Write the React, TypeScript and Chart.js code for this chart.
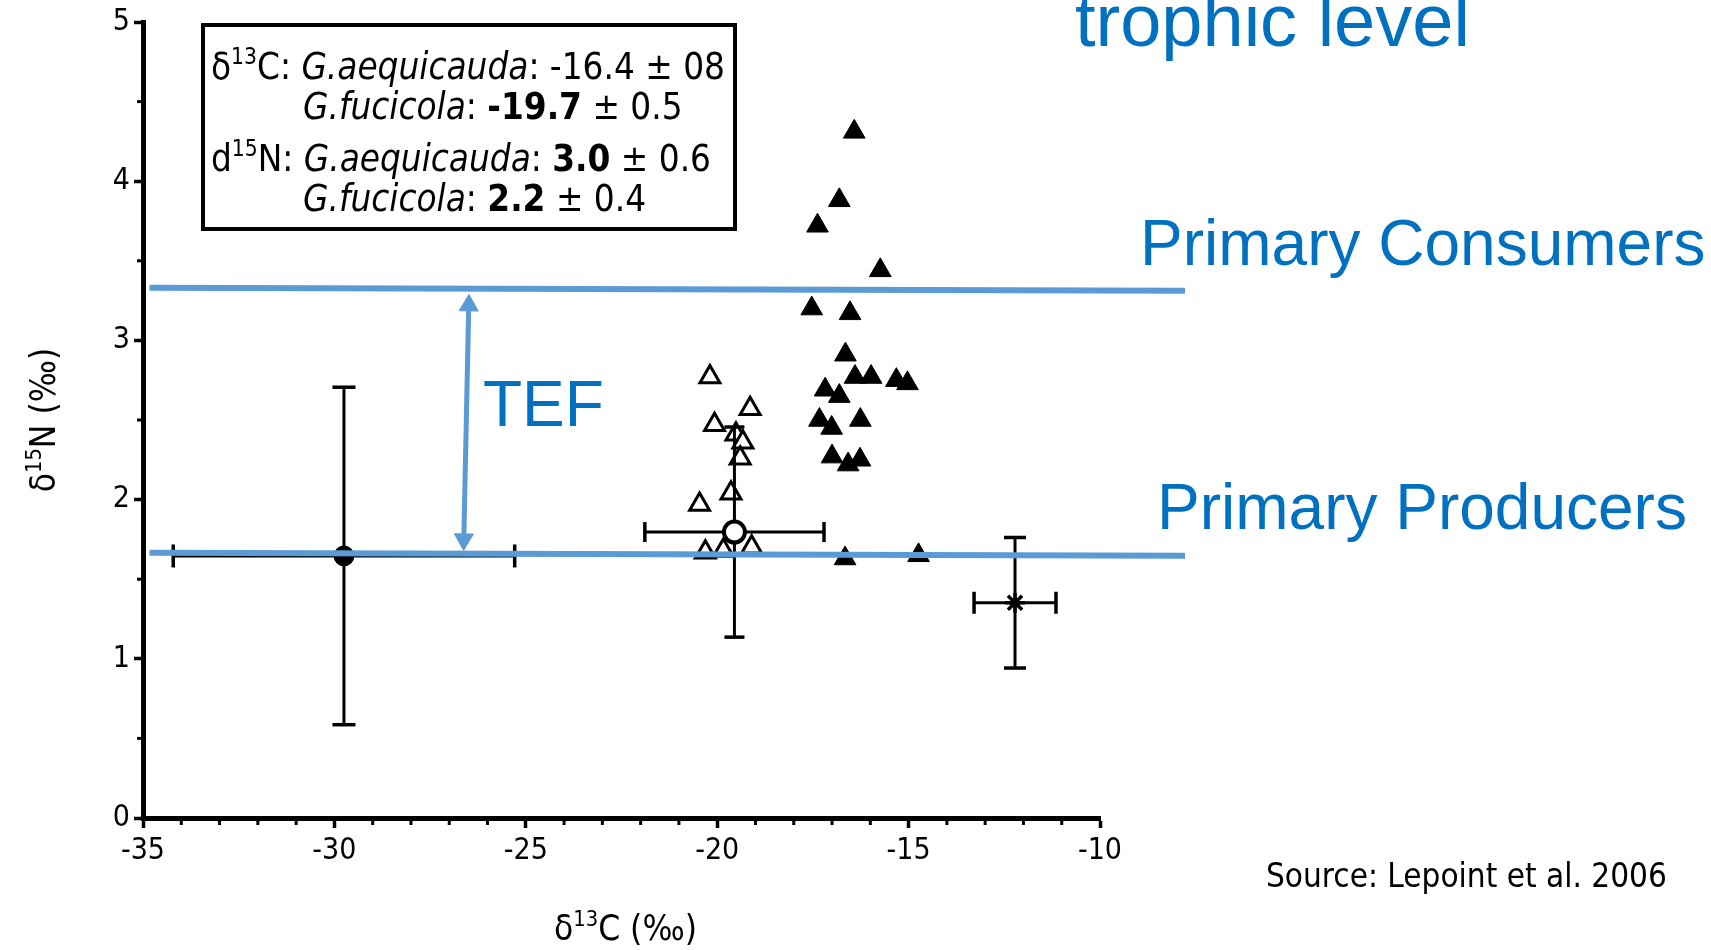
import React, { useEffect, useRef } from 'react';
import { Chart, registerables } from 'chart.js';

Chart.register(...registerables);

// ---------- data ----------
// G. aequicauda (filled triangles)
const aequicaudaX = [-16.42, -16.81, -17.38, -15.74, -17.53, -16.53, -16.65, -16.40, -15.98, -15.32, -15.03, -17.18, -16.81, -17.33, -17.01, -16.26, -17.00, -16.58, -16.27, -16.66, -14.74];
const aequicaudaY = [4.31, 3.88, 3.72, 3.44, 3.20, 3.17, 2.91, 2.77, 2.77, 2.75, 2.73, 2.69, 2.65, 2.50, 2.45, 2.50, 2.27, 2.22, 2.25, 1.63, 1.65];
// G. fucicola (open triangles)
const fucicolaX = [-20.19, -19.14, -20.07, -19.51, -19.33, -19.40, -19.64, -20.46, -20.31, -19.84, -19.10];
const fucicolaY = [2.77, 2.57, 2.47, 2.41, 2.36, 2.26, 2.04, 1.97, 1.67, 1.68, 1.70];
// food sources: mean ± sd
const sourceNames = ['source A', 'source B', 'source C'];
const sourceMeanX = [-29.75, -19.55, -12.22];
const sourceMeanY = [1.646, 1.796, 1.352];
const sourceSdX = [4.46, 2.34, 1.07];
const sourceSdY = [1.06, 0.66, 0.41];
// trophic reference lines
const consumerLineX = [-34.83, -7.78];
const consumerLineY = [3.331, 3.312];
const producerLineX = [-34.83, -7.78];
const producerLineY = [1.666, 1.647];
const tefArrowX = [-26.49, -26.62];
const tefArrowY = [3.22, 1.75];
// axes
const xMin = -35, xMax = -10, xMajor = 5, xMinor = 1;
const yMin = 0, yMax = 5, yMajor = 1, yMinor = 0.5;
// texts
const titleText = 'trophic level';
const consumerText = 'Primary Consumers';
const producerText = 'Primary Producers';
const tefText = 'TEF';
const sourceNote = 'Source: Lepoint et al. 2006';

type Seg = { t: string; it?: boolean; b?: boolean; sup?: boolean };
const boxLines: Seg[][] = [
  [{ t: 'δ' }, { t: '13', sup: true }, { t: 'C: ' }, { t: 'G.aequicauda', it: true }, { t: ': -16.4 ± 08' }],
  [{ t: 'G.fucicola', it: true }, { t: ': ' }, { t: '-19.7', b: true }, { t: ' ± 0.5' }],
  [{ t: 'd' }, { t: '15', sup: true }, { t: 'N: ' }, { t: 'G.aequicauda', it: true }, { t: ': ' }, { t: '3.0', b: true }, { t: ' ± 0.6' }],
  [{ t: 'G.fucicola', it: true }, { t: ': ' }, { t: '2.2', b: true }, { t: ' ± 0.4' }],
];
const xTitle: Seg[] = [{ t: 'δ' }, { t: '13', sup: true }, { t: 'C (‰)' }];
const yTitle: Seg[] = [{ t: 'δ' }, { t: '15', sup: true }, { t: 'N (‰)' }];

// ---------- styles ----------
const GOTHIC = '"DejaVu Sans Condensed", "Liberation Sans Narrow", "DejaVu Sans", sans-serif';
const ARIAL = '"Liberation Sans", Arial, sans-serif';
const LINE_BLUE = '#5B9BD5';
const TEXT_BLUE = '#0070C0';

function segFont(s: Seg, size: number, family: string) {
  const fs = s.sup ? size * 0.62 : size;
  return `${s.it ? 'italic ' : ''}${s.b ? 'bold ' : ''}${fs}px ${family}`;
}
function measureRich(ctx: CanvasRenderingContext2D, segs: Seg[], size: number, family: string) {
  let w = 0;
  for (const s of segs) {
    ctx.font = segFont(s, size, family);
    w += ctx.measureText(s.t).width;
  }
  return w;
}
function drawRich(ctx: CanvasRenderingContext2D, segs: Seg[], x: number, y: number, size: number, family: string) {
  let cx = x;
  for (const s of segs) {
    ctx.font = segFont(s, size, family);
    ctx.fillText(s.t, cx, s.sup ? y - size * 0.4 : y);
    cx += ctx.measureText(s.t).width;
  }
}

const decorPlugin = {
  id: 'decor',
  afterDraw(chart: any) {
    const ctx: CanvasRenderingContext2D = chart.ctx;
    const xs = chart.scales.x;
    const ys = chart.scales.y;
    const area = chart.chartArea;
    ctx.save();
    // minor ticks
    ctx.strokeStyle = '#000';
    ctx.lineWidth = 3;
    for (let v = xMin; v <= xMax + 1e-9; v += xMinor) {
      if (Math.abs(Math.round(v / xMajor) * xMajor - v) < 1e-6) continue;
      const px = xs.getPixelForValue(v);
      ctx.beginPath();
      ctx.moveTo(px, area.bottom);
      ctx.lineTo(px, area.bottom + 7);
      ctx.stroke();
    }
    for (let v = yMin + yMinor; v < yMax; v += yMajor) {
      const py = ys.getPixelForValue(v);
      ctx.beginPath();
      ctx.moveTo(area.left - 6, py);
      ctx.lineTo(area.left, py);
      ctx.stroke();
    }

    ctx.textAlign = 'left';
    ctx.textBaseline = 'alphabetic';
    ctx.fillStyle = '#000';

    // axis titles
    const tSize = 35;
    const xw = measureRich(ctx, xTitle, tSize, GOTHIC);
    drawRich(ctx, xTitle, (area.left + area.right) / 2 + 4 - xw / 2, 940, tSize, GOTHIC);
    const yw = measureRich(ctx, yTitle, tSize, GOTHIC);
    ctx.save();
    ctx.translate(55, 420);
    ctx.rotate(-Math.PI / 2);
    drawRich(ctx, yTitle, -yw / 2, 0, tSize, GOTHIC);
    ctx.restore();

    // info box
    ctx.lineWidth = 4;
    ctx.strokeStyle = '#000';
    ctx.strokeRect(203, 25, 532, 204);
    const bSize = 36.5;
    drawRich(ctx, boxLines[0], 211, 79, bSize, GOTHIC);
    drawRich(ctx, boxLines[1], 303, 119, bSize, GOTHIC);
    drawRich(ctx, boxLines[2], 211, 171, bSize, GOTHIC);
    drawRich(ctx, boxLines[3], 303, 211, bSize, GOTHIC);

    // blue annotations
    ctx.fillStyle = TEXT_BLUE;
    ctx.font = `74px ${ARIAL}`;
    ctx.fillText(titleText, 1075, 46);
    ctx.font = `64px ${ARIAL}`;
    ctx.fillText(consumerText, 1140, 265);
    ctx.fillText(producerText, 1157, 529);
    ctx.fillText(tefText, 483, 426);

    // source
    ctx.fillStyle = '#000';
    ctx.font = `33px ${GOTHIC}`;
    ctx.fillText(sourceNote, 1266, 887);
    ctx.restore();
  },
};

export default function App() {
  const ref = useRef<HTMLCanvasElement | null>(null);
  useEffect(() => {
    if (!ref.current) return;
    const pts = (xs: number[], ys: number[]) => xs.map((x, i) => ({ x, y: ys[i] }));
    const datasets: any[] = [];
    datasets.push({
      label: consumerText, data: pts(consumerLineX, consumerLineY), showLine: true,
      borderColor: LINE_BLUE, borderWidth: 6, pointRadius: 0, clip: false, order: 0,
    });
    datasets.push({
      label: producerText, data: pts(producerLineX, producerLineY), showLine: true,
      borderColor: LINE_BLUE, borderWidth: 6, pointRadius: 0, clip: false, order: 0,
    });
    datasets.push({
      label: tefText, data: pts(tefArrowX, tefArrowY), showLine: true,
      borderColor: LINE_BLUE, borderWidth: 5, pointStyle: 'triangle', pointRadius: 11,
      pointBackgroundColor: LINE_BLUE, pointBorderColor: LINE_BLUE, pointBorderWidth: 1,
      pointRotation: [1, 181], order: 1,
    });
    const markerStyle = ['circle', 'circle', 'star'];
    const markerFill = ['#000', '#fff', '#000'];
    const markerRadius = [10, 10.5, 10];
    const markerBorder = [1, 4, 3.5];
    const capRadius = [11.5, 10, 11];
    sourceMeanX.forEach((mx, i) => {
      const my = sourceMeanY[i];
      datasets.push({
        label: sourceNames[i] + ' sd N',
        data: [{ x: mx, y: my - sourceSdY[i] }, { x: mx, y: my + sourceSdY[i] }],
        showLine: true, borderColor: '#000', borderWidth: 3,
        pointStyle: 'line', pointRadius: capRadius[i], pointBorderColor: '#000', pointBorderWidth: 3.5,
        pointRotation: 0, order: 3,
      });
      datasets.push({
        label: sourceNames[i] + ' sd C',
        data: [{ x: mx - sourceSdX[i], y: my }, { x: mx + sourceSdX[i], y: my }],
        showLine: true, borderColor: '#000', borderWidth: 3,
        pointStyle: 'line', pointRadius: capRadius[i], pointBorderColor: '#000', pointBorderWidth: 3.5,
        pointRotation: 90, order: 3,
      });
      datasets.push({
        label: sourceNames[i],
        data: [{ x: mx, y: my }],
        pointStyle: markerStyle[i], pointRadius: markerRadius[i],
        pointBackgroundColor: markerFill[i], pointBorderColor: '#000', pointBorderWidth: markerBorder[i],
        order: 2,
      });
    });
    datasets.push({
      label: 'G. aequicauda', data: pts(aequicaudaX, aequicaudaY),
      pointStyle: 'triangle', pointRadius: 12.5, pointBackgroundColor: '#000',
      pointBorderColor: '#000', pointBorderWidth: 1, order: 4,
    });
    datasets.push({
      label: 'G. fucicola', data: pts(fucicolaX, fucicolaY),
      pointStyle: 'triangle', pointRadius: 11.5, pointBackgroundColor: '#fff',
      pointBorderColor: '#000', pointBorderWidth: 3, order: 4,
    });

    const tickFont = { family: GOTHIC, size: 30 };
    const chart = new Chart(ref.current, {
      type: 'scatter',
      data: { datasets },
      options: {
        animation: false,
        responsive: false,
        events: [],
        layout: { padding: { left: 0, top: 19.5, right: 611, bottom: 0 } },
        plugins: { legend: { display: false }, tooltip: { enabled: false }, title: { display: false } },
        scales: {
          x: {
            type: 'linear', min: xMin, max: xMax,
            ticks: { stepSize: xMajor, color: '#000', font: tickFont, padding: 5, maxRotation: 0, autoSkip: false, callback: (v: any) => String(v) },
            grid: { display: true, drawOnChartArea: false, drawTicks: true, tickLength: 10, tickWidth: 3.5, tickColor: '#000' },
            border: { display: true, color: '#000', width: 5 },
            afterFit: (s: any) => { s.height = 132; },
          },
          y: {
            type: 'linear', min: yMin, max: yMax,
            ticks: { stepSize: yMajor, color: '#000', font: tickFont, padding: 4, autoSkip: false, callback: (v: any) => String(v) },
            grid: { display: true, drawOnChartArea: false, drawTicks: true, tickLength: 9, tickWidth: 3.5, tickColor: '#000' },
            border: { display: true, color: '#000', width: 5 },
            afterFit: (s: any) => { s.width = 143; },
          },
        },
      } as any,
      plugins: [decorPlugin],
    });
    return () => chart.destroy();
  }, []);
  return (
    <div style={{ position: 'absolute', left: 0, top: 0, width: 1711, height: 950, background: '#fff' }}>
      <canvas ref={ref} width={1711} height={950} style={{ display: 'block' }} />
    </div>
  );
}
